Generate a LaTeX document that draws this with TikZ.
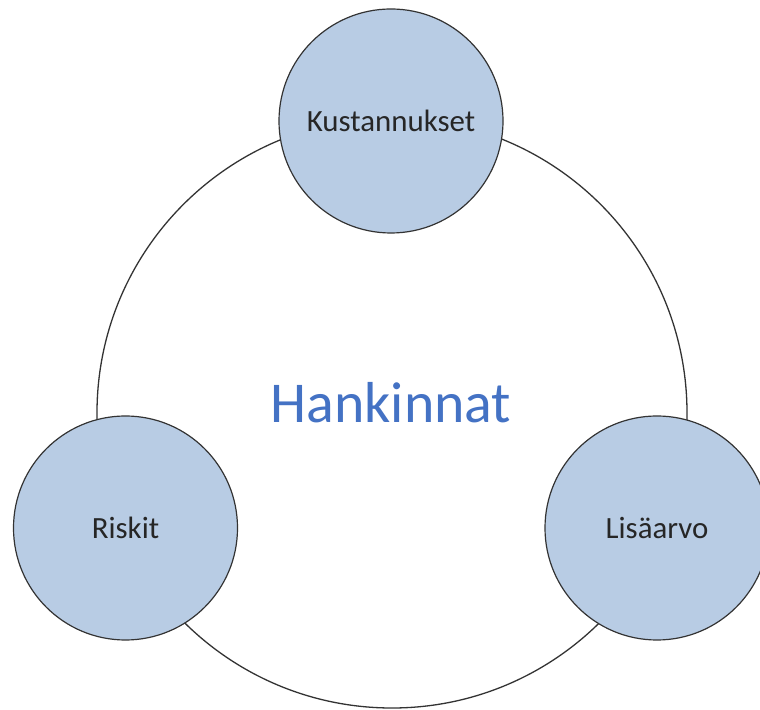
\documentclass[tikz,border=0pt]{standalone}
\usepackage{fontspec}
\setmainfont{Carlito}
\usepackage{tikz}
\usetikzlibrary{shapes,positioning}
\definecolor{topicfill}{RGB}{184,204,228}
\definecolor{titleblue}{RGB}{68,114,196}

\begin{document}
\begin{tikzpicture}[x=1bp,y=1bp]
  \tikzstyle{ring} = [circle, draw=black!80, line width=1.3bp, inner sep=0pt, minimum size=590bp]
  \tikzstyle{topic} = [circle, draw=black!80, line width=1.2bp, fill=topicfill, inner sep=0pt, minimum size=224bp, text=black!85, font=\fontsize{31}{36}\selectfont]
  \tikzstyle{title} = [text=titleblue, font=\fontsize{58}{68}\selectfont, anchor=base]

  \clip (0,0) rectangle (760,710);

  \node[ring] (ring) at (392,297) {};
  \node[title] (hankinnat) at (391,287) {Hankinnat};

  \node[topic] (kustannukset) at (391,589) {Kustannukset};
  \node[topic] (riskit) at (125.5,182) {Riskit};
  \node[topic] (lisaarvo) at (657,182) {Lisäarvo};
\end{tikzpicture}
\end{document}
